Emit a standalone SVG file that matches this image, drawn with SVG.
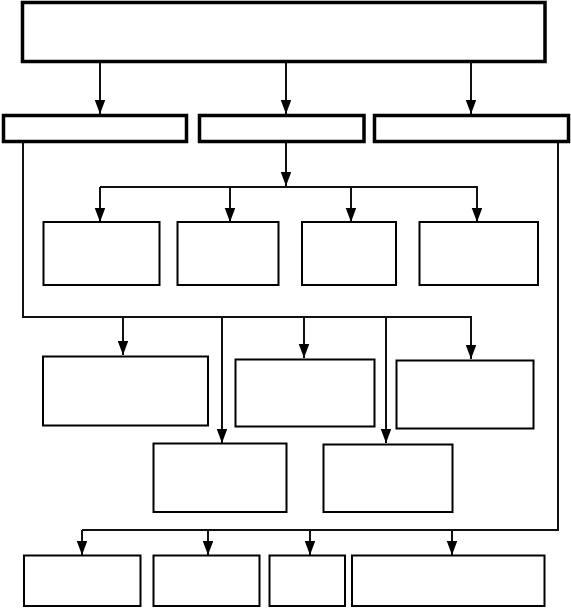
<svg xmlns="http://www.w3.org/2000/svg" width="571" height="610" viewBox="0 0 571 610">
<style>
.n{fill:#fff;stroke:#000}
.t{stroke-width:3.5}
.m{stroke-width:2}
.c{fill:none;stroke:#111;stroke-width:2}
.a{marker-end:url(#ah)}
</style>
<defs>
<marker id="ah" markerUnits="userSpaceOnUse" markerWidth="15" markerHeight="11" refX="14" refY="5.25" orient="auto" viewBox="0 0 15 11">
<path d="M0,0 L14,5.25 L0,10.5 z" fill="#000"/>
</marker>
</defs>
<rect width="571" height="610" fill="#fff"/>
<g id="connectors">
<line class="c a" x1="100" y1="62" x2="100" y2="114"/>
<line class="c a" x1="286" y1="62" x2="286" y2="114"/>
<line class="c a" x1="471" y1="62" x2="471" y2="114"/>
<line class="c a" x1="286" y1="142" x2="286" y2="186"/>
<polyline class="c" points="100,187 478,187"/>
<line class="c a" x1="100" y1="187" x2="100" y2="222"/>
<line class="c a" x1="230" y1="187" x2="230" y2="222"/>
<line class="c a" x1="351" y1="187" x2="351" y2="222"/>
<line class="c a" x1="477" y1="187" x2="477" y2="222"/>
<polyline class="c" points="23,142 23,317 472,317"/>
<line class="c a" x1="123" y1="317" x2="123" y2="355"/>
<line class="c a" x1="304" y1="317" x2="304" y2="358"/>
<line class="c a" x1="471" y1="317" x2="471" y2="359"/>
<line class="c a" x1="222" y1="317" x2="222" y2="443"/>
<line class="c a" x1="386" y1="317" x2="386" y2="443"/>
<polyline class="c" points="558,142 558,530 82,530"/>
<line class="c a" x1="82" y1="530" x2="82" y2="555"/>
<line class="c a" x1="208" y1="530" x2="208" y2="555"/>
<line class="c a" x1="310" y1="530" x2="310" y2="555"/>
<line class="c a" x1="452" y1="530" x2="452" y2="555"/>
</g>
<g id="top"><rect class="n t" x="22.5" y="2.5" width="522.5" height="59"/></g>
<g id="r2a"><rect class="n t" x="3.5" y="115.5" width="183" height="26"/></g>
<g id="r2b"><rect class="n t" x="199.5" y="115.5" width="164.5" height="26"/></g>
<g id="r2c"><rect class="n t" x="374.5" y="115.5" width="194" height="26"/></g>
<g id="r3a"><rect class="n m" x="43.5" y="222" width="116" height="63"/></g>
<g id="r3b"><rect class="n m" x="177.5" y="222" width="101" height="63"/></g>
<g id="r3c"><rect class="n m" x="302" y="222" width="94" height="63"/></g>
<g id="r3d"><rect class="n m" x="419.5" y="222" width="118.5" height="63"/></g>
<g id="r4a"><rect class="n m" x="43" y="356.5" width="165" height="69"/></g>
<g id="r4b"><rect class="n m" x="235.5" y="359.5" width="139" height="67"/></g>
<g id="r4c"><rect class="n m" x="396.5" y="360.5" width="137" height="68"/></g>
<g id="r4d"><rect class="n m" x="153.5" y="443.5" width="133" height="68.5"/></g>
<g id="r4e"><rect class="n m" x="323.5" y="444.5" width="129" height="67.5"/></g>
<g id="r5a"><rect class="n m" x="24" y="555.5" width="116.5" height="50.5"/></g>
<g id="r5b"><rect class="n m" x="153.5" y="555.5" width="106" height="50.5"/></g>
<g id="r5c"><rect class="n m" x="269.5" y="555.5" width="75.5" height="50.5"/></g>
<g id="r5d"><rect class="n m" x="352" y="555.5" width="192.5" height="50.5"/></g>
</svg>
